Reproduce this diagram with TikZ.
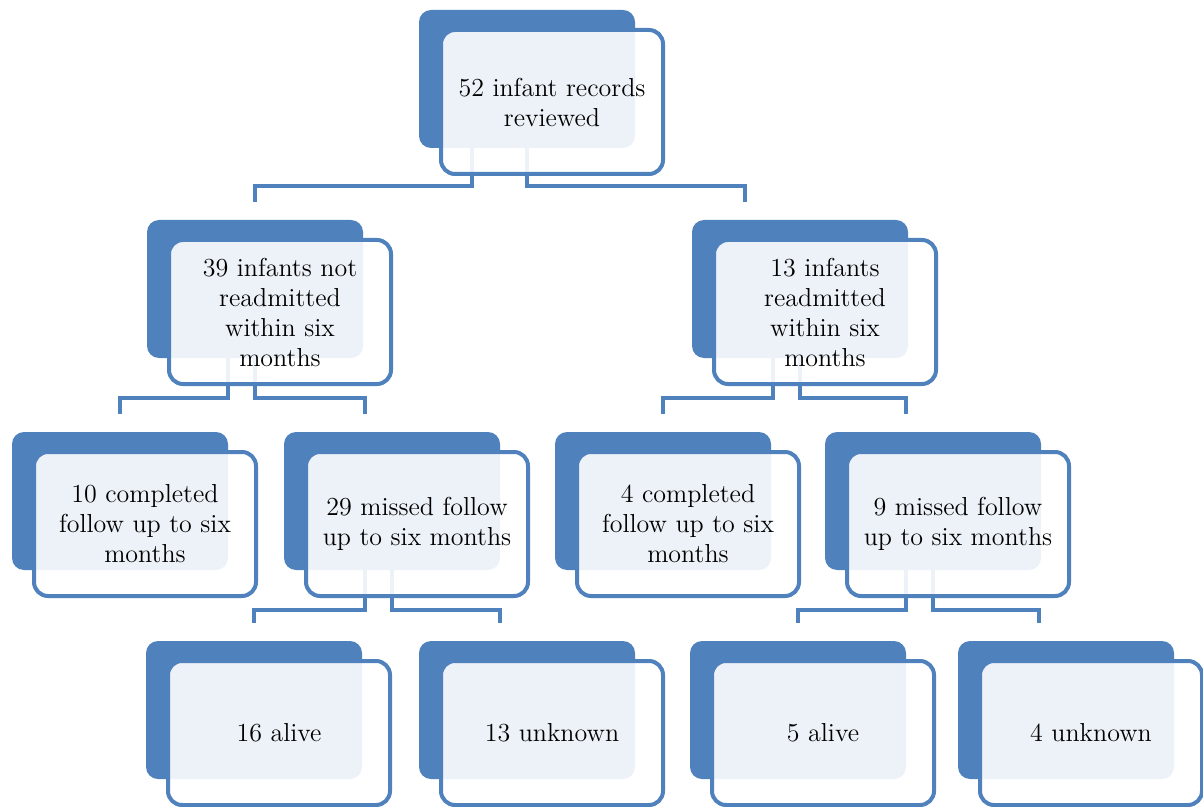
\documentclass[tikz,border=0pt]{standalone}
\definecolor{sablue}{HTML}{4F81BD}
\pgfdeclarelayer{bg}
\pgfsetlayers{bg,main}
\tikzset{
 backbox/.style={fill=sablue, draw=none, rounded corners=6pt, minimum width=108pt, minimum height=69pt, inner sep=0pt, outer sep=0pt, anchor=north west},
 frontbox/.style={draw=sablue, line width=2pt, fill=white, fill opacity=0.9, text opacity=1, rounded corners=7pt, minimum width=111pt, minimum height=72pt, inner sep=0pt, outer sep=0pt, anchor=north west, align=center, font=\fontsize{13}{15}\selectfont},
 conn/.style={draw=sablue, line width=2.25pt, line join=miter}
}
\begin{document}
\begin{tikzpicture}[x=0.5pt,y=-0.5pt]
\useasboundingbox (0,0) rectangle (1203,807);
% row 1
\node[backbox] (b1) at (419,10) {};
\node[frontbox] (f1) at ([xshift=11pt,yshift=-10pt]b1.north west) {52 infant records\\reviewed};
% row 2
\node[backbox] (b2) at (147,220) {};
\node[frontbox] (f2) at ([xshift=11pt,yshift=-10pt]b2.north west) {39 infants not\\readmitted\\within six\\months};
\node[backbox] (b3) at (692,220) {};
\node[frontbox] (f3) at ([xshift=11pt,yshift=-10pt]b3.north west) {13 infants\\readmitted\\within six\\months};
% row 3
\node[backbox] (b4) at (12,432) {};
\node[frontbox] (f4) at ([xshift=11pt,yshift=-10pt]b4.north west) {10 completed\\follow up to six\\months};
\node[backbox] (b5) at (284,432) {};
\node[frontbox] (f5) at ([xshift=11pt,yshift=-10pt]b5.north west) {29 missed follow\\up to six months};
\node[backbox] (b6) at (555,432) {};
\node[frontbox] (f6) at ([xshift=11pt,yshift=-10pt]b6.north west) {4 completed\\follow up to six\\months};
\node[backbox] (b7) at (825,432) {};
\node[frontbox] (f7) at ([xshift=11pt,yshift=-10pt]b7.north west) {9 missed follow\\up to six months};
% row 4
\node[backbox] (b8) at (146,641) {};
\node[frontbox] (f8) at ([xshift=11pt,yshift=-10pt]b8.north west) {16 alive};
\node[backbox] (b9) at (419,641) {};
\node[frontbox] (f9) at ([xshift=11pt,yshift=-10pt]b9.north west) {13 unknown};
\node[backbox] (b10) at (690,641) {};
\node[frontbox] (f10) at ([xshift=11pt,yshift=-10pt]b10.north west) {5 alive};
\node[backbox] (b11) at (958,641) {};
\node[frontbox] (f11) at ([xshift=11pt,yshift=-10pt]b11.north west) {4 unknown};
% connectors
\begin{pgfonlayer}{bg}
\draw[conn] ([xshift=-27.5pt]b1.south) -- ++(0,38) -| ([yshift=9pt]b2.north);
\draw[conn] (b1.south) -- ++(0,38) -| ([xshift=-27.5pt,yshift=9pt]b3.north);
\draw[conn] ([xshift=-13.5pt]b2.south) -- ++(0,40) -| ([yshift=9pt]b4.north);
\draw[conn] (b2.south) -- ++(0,40) -| ([xshift=-13.5pt,yshift=9pt]b5.north);
\draw[conn] ([xshift=-13.5pt]b3.south) -- ++(0,40) -| ([yshift=9pt]b6.north);
\draw[conn] (b3.south) -- ++(0,40) -| ([xshift=-13.5pt,yshift=9pt]b7.north);
\draw[conn] ([xshift=-13.5pt]b5.south) -- ++(0,40) -| ([yshift=9pt]b8.north);
\draw[conn] (b5.south) -- ++(0,40) -| ([xshift=-13.5pt,yshift=9pt]b9.north);
\draw[conn] ([xshift=-13.5pt]b7.south) -- ++(0,40) -| ([yshift=9pt]b10.north);
\draw[conn] (b7.south) -- ++(0,40) -| ([xshift=-13.5pt,yshift=9pt]b11.north);
\end{pgfonlayer}
\end{tikzpicture}
\end{document}
